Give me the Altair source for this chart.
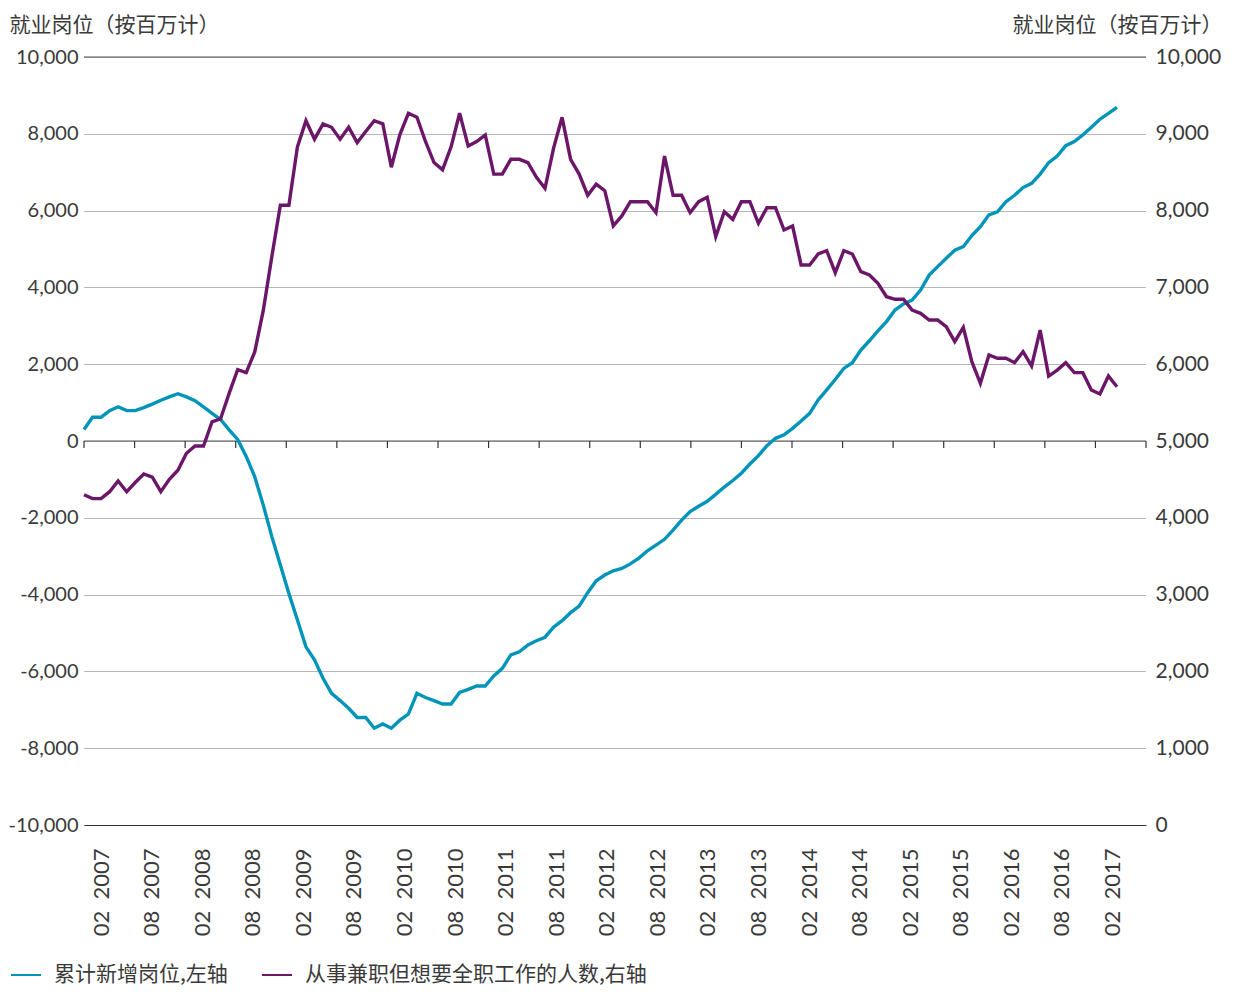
import json
import altair as alt
import pandas as pd

# ---- data ----
TICK_LABELS = [
    "02\u00a0\u00a02007", "08\u00a0\u00a02007", "02\u00a0\u00a02008", "08\u00a0\u00a02008",
    "02\u00a0\u00a02009", "08\u00a0\u00a02009", "02\u00a0\u00a02010", "08\u00a0\u00a02010",
    "02\u00a0\u00a02011", "08\u00a0\u00a02011", "02\u00a0\u00a02012", "08\u00a0\u00a02012",
    "02\u00a0\u00a02013", "08\u00a0\u00a02013", "02\u00a0\u00a02014", "08\u00a0\u00a02014",
    "02\u00a0\u00a02015", "08\u00a0\u00a02015", "02\u00a0\u00a02016", "08\u00a0\u00a02016",
    "02\u00a0\u00a02017", "",
]

JOBS = [
    300, 620, 620, 790, 890, 790, 790, 870, 960, 1060,
    1150, 1230, 1150, 1050, 890, 720, 560, 290, 40, -400,
    -930, -1670, -2490, -3230, -3970, -4660, -5360, -5700, -6180, -6570,
    -6760, -6960, -7200, -7200, -7480, -7370, -7480, -7270, -7110, -6570,
    -6680, -6760, -6850, -6850, -6550, -6470, -6380, -6380, -6120, -5920,
    -5570, -5490, -5310, -5200, -5110, -4850, -4680, -4470, -4300, -3950,
    -3640, -3490, -3380, -3320, -3200, -3050, -2860, -2710, -2560, -2320,
    -2060, -1840, -1700, -1570, -1390, -1200, -1030, -840, -600, -380,
    -120, 70, 160, 330, 520, 720, 1070, 1330, 1600, 1890,
    2040, 2370, 2610, 2870, 3110, 3410, 3570, 3670, 3930, 4320,
    4540, 4760, 4970, 5060, 5350, 5580, 5890, 5970, 6230, 6400,
    6600, 6710, 6950, 7250, 7420, 7690, 7800, 7970, 8170, 8380,
    8530, 8690,
]

PART_TIME = [
    4300, 4250, 4250, 4340, 4480, 4340, 4460, 4570, 4530, 4340,
    4500, 4620, 4840, 4935, 4935, 5250, 5290, 5620, 5930, 5890,
    6160, 6700, 7400, 8070, 8070, 8830, 9170, 8930, 9130, 9085,
    8930, 9085, 8885, 9030, 9170, 9130, 8565, 8990, 9267, 9215,
    8900, 8625, 8530, 8830, 9267, 8840, 8900, 8985, 8475, 8475,
    8668, 8668, 8625, 8433, 8290, 8810, 9215, 8668, 8475, 8200,
    8345, 8259, 7800, 7930, 8116, 8116, 8116, 7973, 8710, 8200,
    8200, 7973, 8116, 8173, 7660, 7986, 7886, 8116, 8116, 7834,
    8038, 8038, 7747, 7800, 7292, 7292, 7435, 7478, 7191, 7478,
    7435, 7205, 7161, 7053, 6879, 6845, 6845, 6706, 6662, 6575,
    6575, 6488, 6293, 6480, 6033, 5751, 6120, 6077, 6077, 6020,
    6163, 5977, 6445, 5846, 5924, 6020, 5890, 5890, 5664, 5612,
    5846, 5707,
]

SERIES = ["累计新增岗位,左轴", "从事兼职但想要全职工作的人数,右轴"]
COLORS = ["#0094b8", "#6b1668"]
AXIS_TITLE = "就业岗位（按百万计）"
LEFT_TICKS = list(range(-10000, 10001, 2000))
RIGHT_TICKS = list(range(0, 10001, 1000))

# ---- layout helpers ----
X_MAX = 124.4                      # axis runs slightly beyond the last month
N_TICKS = len(TICK_LABELS)
STEP = X_MAX / (N_TICKS - 1)
TICK_VALUES = [i * STEP for i in range(N_TICKS)]

NUM_FONT = "Lato"
CJK_FONT = "Noto Sans CJK SC"
TXT = "#3a3a3a"

months = list(range(len(JOBS)))
df_jobs = pd.DataFrame({"m": months, "v": JOBS, "series": SERIES[0]})
df_pt = pd.DataFrame({"m": months, "v": PART_TIME, "series": SERIES[1]})
ticks_df = pd.DataFrame({"t": TICK_VALUES, "z": [0] * len(TICK_VALUES)})
hline_df = pd.DataFrame({"v": [10000, 0]})

xscale = alt.Scale(domain=[0, X_MAX], nice=False, zero=False)
yleft = alt.Scale(domain=[-10000, 10000], nice=False, zero=False)
yright = alt.Scale(domain=[0, 10000], nice=False, zero=False)
cscale = alt.Scale(domain=SERIES, range=COLORS)

label_arr = json.dumps(TICK_LABELS, ensure_ascii=False)

x_axis = alt.Axis(
    values=TICK_VALUES,
    labelExpr=f"{label_arr}[round(datum.value / {STEP})]",
    labelAngle=270, labelAlign="right", labelBaseline="middle",
    labelOffset=17, labelPadding=23, labelFont=NUM_FONT, labelFontSize=22,
    labelColor=TXT, labelOverlap=False, labelFlush=False,
    ticks=False, grid=False, domain=True, domainColor="#333", domainWidth=1.2,
    title=None,
)

left_axis = alt.Axis(
    values=LEFT_TICKS,
    labelExpr="(datum.value < 0 ? '-' : '') + format(abs(datum.value), ',')",
    labelFont=NUM_FONT, labelFontSize=20, labelColor=TXT, labelPadding=6,
    ticks=False, domain=False,
    grid=True, gridDash=[1, 1], gridColor="#6f6f6f", gridWidth=1,
    title=AXIS_TITLE, titleAngle=0, titleAlign="left", titleBaseline="middle",
    titleX=-75, titleY=-32, titleFont=CJK_FONT, titleFontSize=21,
    titleFontWeight="normal", titleColor=TXT,
)

right_axis = alt.Axis(
    values=RIGHT_TICKS,
    labelExpr="format(datum.value, ',')",
    orient="right",
    labelFont=NUM_FONT, labelFontSize=21, labelColor=TXT, labelPadding=9,
    ticks=False, domain=False, grid=False,
    title=AXIS_TITLE, titleAngle=0, titleAlign="right", titleBaseline="middle",
    titleX=76, titleY=-32, titleFont=CJK_FONT, titleFontSize=21,
    titleFontWeight="normal", titleColor=TXT,
)

legend = alt.Legend(
    title=None, orient="none", legendX=-74, legendY=902, direction="horizontal",
    symbolType="stroke", symbolSize=900, symbolStrokeWidth=2,
    labelFont=CJK_FONT, labelFontSize=21, labelColor=TXT, labelOffset=12,
    columnPadding=30, labelLimit=600,
)

hlines = alt.Chart(hline_df).mark_rule(color="#555", strokeWidth=1.2).encode(
    y=alt.Y("v:Q", scale=yleft, axis=left_axis)
)

zero_ticks = alt.Chart(ticks_df).mark_rule(color="#333", strokeWidth=1.2, y2Offset=7).encode(
    x=alt.X("t:Q", scale=xscale, axis=x_axis),
    y=alt.Y("z:Q", scale=yleft, axis=left_axis),
    y2="z:Q",
)

blue = alt.Chart(df_jobs).mark_line(strokeWidth=3.4).encode(
    x=alt.X("m:Q", scale=xscale, axis=x_axis),
    y=alt.Y("v:Q", scale=yleft, axis=left_axis),
    color=alt.Color("series:N", scale=cscale, legend=legend),
)

purple = alt.Chart(df_pt).mark_line(strokeWidth=3.4).encode(
    x=alt.X("m:Q", scale=xscale, axis=x_axis),
    y=alt.Y("v:Q", scale=yright, axis=right_axis),
    color=alt.Color("series:N", scale=cscale, legend=legend),
)

left = alt.layer(hlines, zero_ticks, blue)

chart = (
    alt.layer(left, purple)
    .resolve_scale(y="independent")
    .properties(
        width=1062, height=768,
        padding={"left": 76, "top": 49, "right": 79, "bottom": 161},
        autosize="none", background="white",
    )
    .configure_view(stroke=None)
)

chart.save("out.html", embed_options={"renderer": "svg", "actions": False})
